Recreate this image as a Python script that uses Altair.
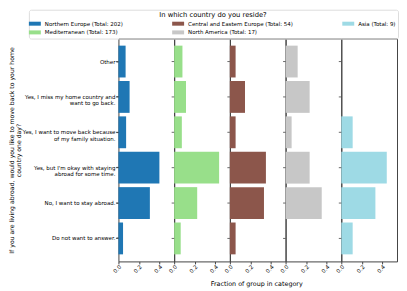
import altair as alt
import pandas as pd

answers = [
    "Other",
    "Yes, I miss my home country and|want to go back.",
    "Yes, I want to move back because|of my family situation.",
    "Yes, but I'm okay with staying|abroad for some time.",
    "No, I want to stay abroad.",
    "Do not want to answer.",
]
regions = [
    "Northern Europe (Total: 202)",
    "Mediterranean (Total: 173)",
    "Central and Eastern Europe (Total: 54)",
    "North America (Total: 17)",
    "Asia (Total: 9)",
]
colors = ["#1f77b4", "#98df8a", "#8c564b", "#c7c7c7", "#9edae5"]

northern_europe = [0.070, 0.109, 0.075, 0.400, 0.307, 0.045]
mediterranean = [0.081, 0.116, 0.075, 0.439, 0.225, 0.064]
central_eastern = [0.056, 0.148, 0.056, 0.352, 0.333, 0.056]
north_america = [0.118, 0.235, 0.059, 0.235, 0.353, 0.0]
asia = [0.0, 0.0, 0.111, 0.444, 0.333, 0.111]

series = [northern_europe, mediterranean, central_eastern, north_america, asia]
rows = []
for reg, vals in zip(regions, series):
    for ans, v in zip(answers, vals):
        rows.append({"region": reg, "answer": ans, "fraction": v})
df = pd.DataFrame(rows)

FONT = "DejaVu Sans"

y_enc = alt.Y(
    "answer:N",
    sort=answers,
    scale=alt.Scale(paddingInner=0.1, paddingOuter=0.2),
    axis=alt.Axis(
        labelExpr="split(datum.label, '|')",
        labelFontSize=5.5, labelLineHeight=6.5, tickSize=2.5, labelPadding=1,
        domain=False, tickColor="#444444",
        title=["If you are living abroad, would you like to move back to your home",
               "country one day?"],
        titleFontSize=6.2, titleFontWeight="normal", titlePadding=1,
        titleLineHeight=7,
    ),
)

bars = alt.Chart().mark_bar().encode(
    x=alt.X(
        "fraction:Q",
        scale=alt.Scale(domain=[0, 0.544], nice=False),
        axis=alt.Axis(values=[0, 0.2, 0.4], format=".1f", labelAngle=315,
                      labelFontSize=5.5, tickSize=2.5, title=None, grid=False,
                      domain=False, labelAlign="right", labelBaseline="top",
                      labelPadding=0, tickColor="#444444"),
    ),
    y=y_enc,
    color=alt.Color(
        "region:N",
        scale=alt.Scale(domain=regions, range=colors),
        legend=alt.Legend(
            title="In which country do you reside?",
            orient="none", legendX=-90, legendY=-29,
            columns=3, columnPadding=49, rowPadding=1,
            symbolType="M-1.5,-0.5H1.5V0.5H-1.5Z", symbolSize=64,
            symbolStrokeWidth=0,
            labelFontSize=5.5, titleFontSize=6.8, titleFontWeight="normal",
            titleAnchor="middle", titlePadding=1,
            strokeColor="#dddddd", padding=2, cornerRadius=2,
            labelOffset=6,
        ),
    ),
)

ticks = alt.Chart().mark_rule(color="#444444", strokeWidth=0.8).encode(
    x=alt.value(-2.5), x2=alt.value(0),
    y=alt.Y("answer:N", sort=answers),
)

layered = alt.layer(bars, ticks, data=df).properties(width=56, height=224)

chart = layered.facet(
    column=alt.Column(
        "region:N", sort=regions,
        header=alt.Header(labels=False, title="Fraction of group in category",
                          titleOrient="bottom", titleFontSize=6.4,
                          titleFontWeight="normal", titlePadding=-3),
    ),
    spacing=0,
    bounds="flush",
).configure(
    font=FONT, padding=0
).configure_view(
    stroke="#444444", strokeWidth=1
).configure_axis(
    labelColor="#000", titleColor="#000", labelFont=FONT, titleFont=FONT
).configure_legend(
    labelFont=FONT, titleFont=FONT, labelColor="#000", titleColor="#000"
).configure_header(titleFont=FONT, titleColor="#000")

chart.save("out.html", embed_options={"renderer": "svg", "actions": False})
